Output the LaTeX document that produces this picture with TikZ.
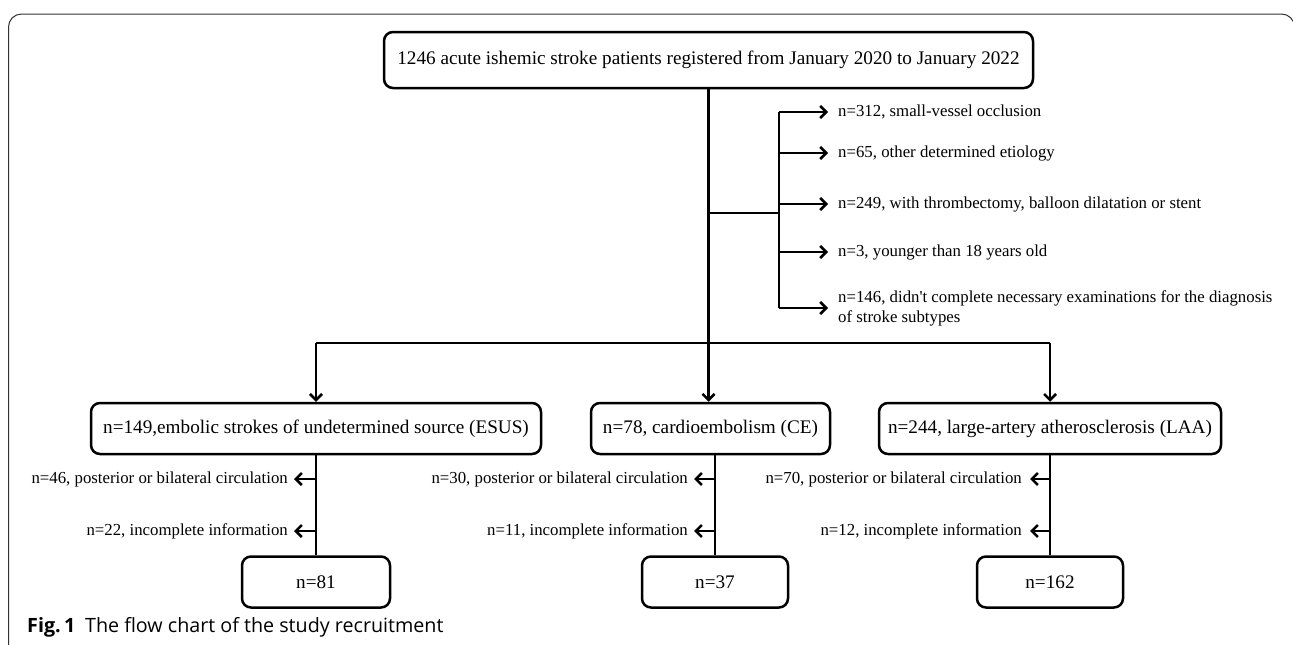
\documentclass[tikz,border=0pt]{standalone}
\usepackage{fontspec}
\setmainfont{Liberation Serif}
\newfontfamily\capfont{Open Sans}
\usetikzlibrary{arrows.meta}
\begin{document}
\begin{tikzpicture}[x=1pt,y=-1pt,
  box/.style={draw, line width=2.5pt, rounded corners=9pt, inner sep=0pt,
    font=\fontsize{19.2}{23}\selectfont, align=center, minimum height=51pt},
  note/.style={inner sep=0pt, font=\fontsize{16.8}{20}\selectfont, align=left},
  conn/.style={line width=2.5pt},
  arr/.style={line width=2.5pt, -{Straight Barb[length=6pt,width=12pt]}},
  frame/.style={line width=1pt, black!80, rounded corners=13pt}]
\useasboundingbox (0,0) rectangle (1293,645);
\clip (0,0) rectangle (1293,645);
\draw[frame] (8.5,660) -- (8.5,14) -- (1294.5,14) -- (1294.5,660);

% top box
\node[box, minimum width=649pt, minimum height=56pt] (top) at (708.5,60)
  {1246 acute ishemic stroke patients registered from January 2020 to January 2022};

% exclusion notes (top)
\node[note, anchor=west] (e1) at (838,112) {n=312, small-vessel occlusion};
\node[note, anchor=west] (e2) at (838,153) {n=65, other determined etiology};
\node[note, anchor=west] (e3) at (838,204) {n=249, with thrombectomy, balloon dilatation or stent};
\node[note, anchor=west] (e4) at (838,252) {n=3, younger than 18 years old};
\node[note, anchor=west] (e5) at (838,308) {n=146, didn\textquotesingle t complete necessary examinations for the diagnosis\\of stroke subtypes};

% subtype boxes
\node[box, minimum width=450pt] (esus) at (316,428.5) {n=149,embolic strokes of undetermined source (ESUS)};
\node[box, minimum width=239pt] (ce) at (710.5,428.5) {n=78, cardioembolism (CE)};
\node[box, minimum width=342pt] (laa) at (1050,428.5) {n=244, large-artery atherosclerosis (LAA)};

% result boxes
\node[box, minimum width=148pt] (r1) at (316,582) {n=81};
\node[box, minimum width=146pt] (r2) at (715,582) {n=37};
\node[box, minimum width=146pt] (r3) at (1050,582) {n=162};

% lower exclusion notes
\node[note, anchor=east] (a1) at (288,479) {n=46, posterior or bilateral circulation};
\node[note, anchor=east] (a2) at (288,531) {n=22, incomplete information};
\node[note, anchor=east] (b1) at (688,479) {n=30, posterior or bilateral circulation};
\node[note, anchor=east] (b2) at (688,531) {n=11, incomplete information};
\node[note, anchor=east] (c1) at (1022,479) {n=70, posterior or bilateral circulation};
\node[note, anchor=east] (c2) at (1022,531) {n=12, incomplete information};

% caption
\node[anchor=base west, inner sep=0pt, font=\capfont\fontsize{19.7}{23}\selectfont] (cap) at (27,632)
  {\textbf{Fig.\,1}\hspace{0.5em}The flow chart of the study recruitment};

% connectors
\coordinate (br) at (779,213);
\coordinate (busL) at (316,343);
\coordinate (busR) at (1050,343);
\draw[conn] (top.south) -- (top.south |- busL);
\draw[conn] (top.south |- br) -- (br);
\draw[conn] (br |- e1.west) -- (br |- e5.west);
\foreach \e in {e1,e2,e3,e4,e5}
  \draw[arr] (br |- \e.west) -- ([xshift=-10pt]\e.west);
\draw[conn] (busL) -- (busR);
\draw[arr] (busL) -- (esus.north);
\draw[arr] (top.south |- busL) -- (top.south |- ce.north);
\draw[arr] (busR) -- (laa.north);

\draw[conn] (esus.south) -- (r1.north);
\draw[arr] (esus.south |- a1.east) -- ([xshift=6pt]a1.east);
\draw[arr] (esus.south |- a2.east) -- ([xshift=6pt]a2.east);
\draw[conn] (r2.north |- ce.south) -- (r2.north);
\draw[arr] (r2.north |- b1.east) -- ([xshift=6pt]b1.east);
\draw[arr] (r2.north |- b2.east) -- ([xshift=6pt]b2.east);
\draw[conn] (laa.south) -- (r3.north);
\draw[arr] (laa.south |- c1.east) -- ([xshift=8pt]c1.east);
\draw[arr] (laa.south |- c2.east) -- ([xshift=8pt]c2.east);
\end{tikzpicture}
\end{document}
